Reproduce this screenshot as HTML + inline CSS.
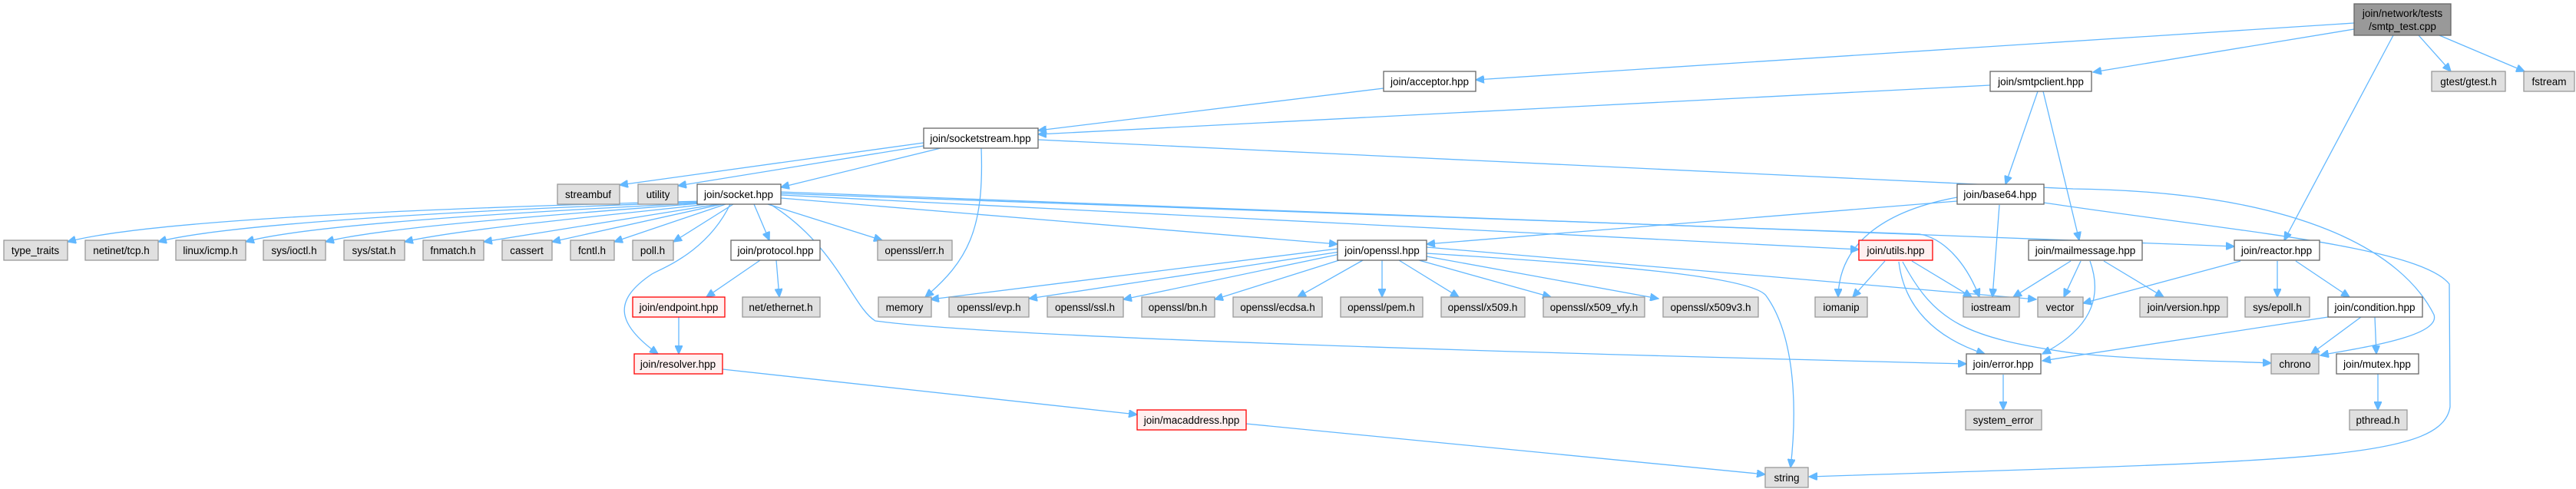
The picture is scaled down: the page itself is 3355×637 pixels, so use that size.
<!DOCTYPE html>
<html><head><meta charset="utf-8"><style>
html,body{margin:0;padding:0;background:#fff;}
svg{display:block;}
text{font-family:"Liberation Sans",sans-serif;font-size:13.5px;fill:#000;text-anchor:middle;}
.g{fill:#e0e0e0;stroke:#999;stroke-width:1.3}
.w{fill:#fff;stroke:#666;stroke-width:1.3}
.r{fill:#fff0f0;stroke:#f00;stroke-width:1.3}
.t{fill:#999;stroke:#666;stroke-width:1.3}
path{fill:none;stroke:#63b8ff;stroke-width:1.3;marker-end:url(#a)}
</style></head><body>
<svg width="3355" height="637" viewBox="0 0 3355 637" xmlns="http://www.w3.org/2000/svg">
<defs><marker id="a" markerUnits="userSpaceOnUse" markerWidth="12" markerHeight="10" refX="11" refY="5" orient="auto"><path d="M0,0 L11,5 L0,10 z" style="fill:#63b8ff;stroke:#63b8ff;marker-end:none"/></marker></defs>

<!-- edges -->
<path d="M3066,30 L1922,104"/>
<path d="M3066,38 L2726,94"/>
<path d="M3117,46 L2975,313"/>
<path d="M3150,46 L3192,93"/>
<path d="M3177,46 L3288,93"/>
<path d="M1802,115 L1352,170"/>
<path d="M2592,111 L1352,175"/>
<path d="M2654,119 L2612,240"/>
<path d="M2661,119 L2708,313"/>
<path d="M1203,186 L807,241"/>
<path d="M1203,190 L883,242"/>
<path d="M1225,193 L1017,244"/>
<path d="M1278,193 C1282,300 1260,340 1205,387"/>
<path d="M1352,182 L2700,246 C3000,250 3130,330 3170,410 C3180,440 3060,455 3022,463"/>
<path d="M915,262 C600,270 200,285 88,315"/>
<path d="M918,263 C650,272 300,290 206,315"/>
<path d="M920,264 C700,275 400,292 320,315"/>
<path d="M925,264 C750,278 500,295 424,315"/>
<path d="M930,265 C800,280 600,298 527,315"/>
<path d="M935,266 L630,315"/>
<path d="M940,266 L719,315"/>
<path d="M945,266 L800,315"/>
<path d="M955,266 L877,315"/>
<path d="M982,266 L1002,313"/>
<path d="M951,266 C920,330 860,350 849,357 C800,390 800,420 857,461"/>
<path d="M1000,266 L1149,313"/>
<path d="M1017,258 L1742,318"/>
<path d="M1017,254 L2421,325"/>
<path d="M1017,252 L2500,305 C2530,310 2560,340 2578,387"/>
<path d="M1017,250 L2910,321"/>
<path d="M1003,266 C1090,320 1110,400 1140,418 C1300,440 2000,460 2561,474"/>
<path d="M2549,262 L1858,318"/>
<path d="M2549,257 C2450,275 2395,320 2394,387"/>
<path d="M2604,267 L2595,387"/>
<path d="M2662,264 C2900,300 3150,320 3190,370 L3191,530 C3180,600 3000,600 2356,621"/>
<path d="M1742,324 L1212,390"/>
<path d="M1745,328 L1340,389"/>
<path d="M1750,330 L1463,390"/>
<path d="M1760,334 L1582,390"/>
<path d="M1775,339 L1690,387"/>
<path d="M1800,339 L1800,387"/>
<path d="M1822,339 L1900,387"/>
<path d="M1848,339 L2020,387"/>
<path d="M1858,334 L2160,389"/>
<path d="M1858,322 L2652,390"/>
<path d="M1858,330 C2100,345 2280,360 2300,385 C2340,440 2340,540 2332,609"/>
<path d="M2455,340 L2413,387"/>
<path d="M2490,340 L2568,387"/>
<path d="M2473,341 C2480,400 2520,440 2585,461"/>
<path d="M2478,341 C2520,420 2560,440 2700,460 C2800,470 2900,470 2958,473"/>
<path d="M2697,340 L2622,387"/>
<path d="M2710,340 L2688,387"/>
<path d="M2740,340 L2818,387"/>
<path d="M2722,340 C2740,390 2720,430 2660,461"/>
<path d="M2918,340 L2713,395"/>
<path d="M2966,340 L2966,387"/>
<path d="M2990,340 L3060,387"/>
<path d="M3032,413 L2660,470"/>
<path d="M3075,413 L3010,461"/>
<path d="M3093,413 L3095,461"/>
<path d="M3097,487 L3097,534"/>
<path d="M2609,488 L2609,534"/>
<path d="M990,339 L920,387"/>
<path d="M1011,339 L1015,387"/>
<path d="M884,413 L884,461"/>
<path d="M941,481 L1481,540"/>
<path d="M1623,552 L2299,618"/>

<!-- nodes -->
<rect class="t" x="3066" y="5" width="126" height="41"/><text x="3129" y="22">join/network/tests</text><text x="3129" y="39">/smtp_test.cpp</text>
<rect class="w" x="1802" y="93" width="120" height="26"/><text x="1862" y="111">join/acceptor.hpp</text>
<rect class="w" x="2592" y="93" width="132" height="26"/><text x="2658" y="111">join/smtpclient.hpp</text>
<rect class="g" x="3167" y="93" width="96" height="26"/><text x="3215" y="111">gtest/gtest.h</text>
<rect class="g" x="3287" y="93" width="66" height="26"/><text x="3320" y="111">fstream</text>
<rect class="w" x="1203" y="167" width="149" height="26"/><text x="1277" y="185">join/socketstream.hpp</text>
<rect class="g" x="726" y="240" width="81" height="26"/><text x="766" y="258">streambuf</text>
<rect class="g" x="831" y="240" width="52" height="26"/><text x="857" y="258">utility</text>
<rect class="w" x="908" y="240" width="109" height="26"/><text x="962" y="258">join/socket.hpp</text>
<rect class="w" x="2549" y="240" width="113" height="26"/><text x="2605" y="258">join/base64.hpp</text>

<rect class="g" x="5" y="313" width="83" height="26"/><text x="46" y="331">type_traits</text>
<rect class="g" x="111" y="313" width="95" height="26"/><text x="158" y="331">netinet/tcp.h</text>
<rect class="g" x="229" y="313" width="91" height="26"/><text x="274" y="331">linux/icmp.h</text>
<rect class="g" x="343" y="313" width="81" height="26"/><text x="383" y="331">sys/ioctl.h</text>
<rect class="g" x="448" y="313" width="79" height="26"/><text x="487" y="331">sys/stat.h</text>
<rect class="g" x="551" y="313" width="79" height="26"/><text x="590" y="331">fnmatch.h</text>
<rect class="g" x="654" y="313" width="65" height="26"/><text x="686" y="331">cassert</text>
<rect class="g" x="743" y="313" width="57" height="26"/><text x="771" y="331">fcntl.h</text>
<rect class="g" x="824" y="313" width="53" height="26"/><text x="850" y="331">poll.h</text>
<rect class="w" x="952" y="313" width="116" height="26"/><text x="1010" y="331">join/protocol.hpp</text>
<rect class="g" x="1143" y="313" width="97" height="26"/><text x="1191" y="331">openssl/err.h</text>
<rect class="w" x="1742" y="313" width="116" height="26"/><text x="1800" y="331">join/openssl.hpp</text>
<rect class="r" x="2421" y="313" width="96" height="26"/><text x="2469" y="331">join/utils.hpp</text>
<rect class="w" x="2642" y="313" width="148" height="26"/><text x="2716" y="331">join/mailmessage.hpp</text>
<rect class="w" x="2910" y="313" width="111" height="26"/><text x="2965" y="331">join/reactor.hpp</text>

<rect class="r" x="824" y="387" width="120" height="26"/><text x="884" y="405">join/endpoint.hpp</text>
<rect class="g" x="967" y="387" width="101" height="26"/><text x="1017" y="405">net/ethernet.h</text>
<rect class="g" x="1144" y="387" width="69" height="26"/><text x="1178" y="405">memory</text>
<rect class="g" x="1236" y="387" width="104" height="26"/><text x="1288" y="405">openssl/evp.h</text>
<rect class="g" x="1364" y="387" width="99" height="26"/><text x="1413" y="405">openssl/ssl.h</text>
<rect class="g" x="1487" y="387" width="95" height="26"/><text x="1534" y="405">openssl/bn.h</text>
<rect class="g" x="1606" y="387" width="116" height="26"/><text x="1664" y="405">openssl/ecdsa.h</text>
<rect class="g" x="1746" y="387" width="107" height="26"/><text x="1799" y="405">openssl/pem.h</text>
<rect class="g" x="1877" y="387" width="109" height="26"/><text x="1931" y="405">openssl/x509.h</text>
<rect class="g" x="2010" y="387" width="132" height="26"/><text x="2076" y="405">openssl/x509_vfy.h</text>
<rect class="g" x="2166" y="387" width="124" height="26"/><text x="2228" y="405">openssl/x509v3.h</text>
<rect class="g" x="2364" y="387" width="68" height="26"/><text x="2398" y="405">iomanip</text>
<rect class="g" x="2557" y="387" width="73" height="26"/><text x="2593" y="405">iostream</text>
<rect class="g" x="2654" y="387" width="59" height="26"/><text x="2683" y="405">vector</text>
<rect class="g" x="2787" y="387" width="114" height="26"/><text x="2844" y="405">join/version.hpp</text>
<rect class="g" x="2924" y="387" width="84" height="26"/><text x="2966" y="405">sys/epoll.h</text>
<rect class="w" x="3032" y="387" width="123" height="26"/><text x="3093" y="405">join/condition.hpp</text>

<rect class="r" x="826" y="461" width="115" height="26"/><text x="883" y="479">join/resolver.hpp</text>
<rect class="w" x="2561" y="461" width="97" height="26"/><text x="2609" y="479">join/error.hpp</text>
<rect class="g" x="2958" y="461" width="62" height="26"/><text x="2989" y="479">chrono</text>
<rect class="w" x="3043" y="461" width="107" height="26"/><text x="3096" y="479">join/mutex.hpp</text>

<rect class="r" x="1481" y="534" width="142" height="26"/><text x="1552" y="552">join/macaddress.hpp</text>
<rect class="g" x="2560" y="534" width="99" height="26"/><text x="2609" y="552">system_error</text>
<rect class="g" x="3060" y="534" width="75" height="26"/><text x="3097" y="552">pthread.h</text>
<rect class="g" x="2299" y="609" width="56" height="26"/><text x="2327" y="627">string</text>
</svg>
</body></html>
